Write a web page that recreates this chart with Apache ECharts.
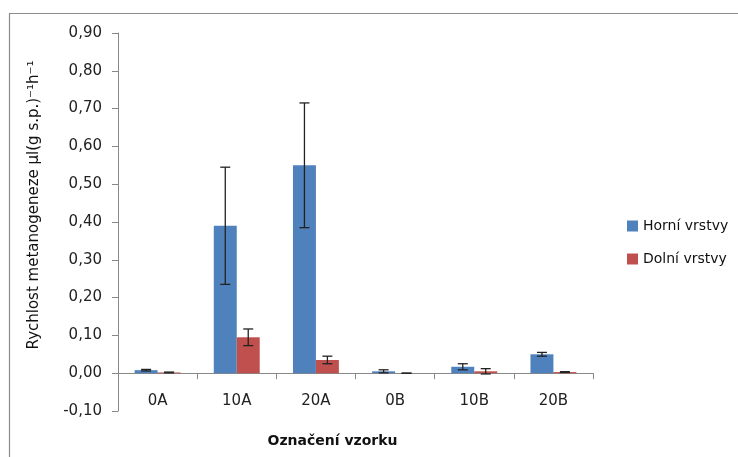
<!DOCTYPE html>
<html>
<head>
<meta charset="utf-8">
<script src="https://cdn.jsdelivr.net/npm/echarts@6/dist/echarts.min.js"></script>
<style>html,body{margin:0;padding:0;background:#fff}#c{width:738px;height:457px}</style>
</head>
<body>
<div id="c"></div>
<script>
var categories = ['0A', '10A', '20A', '0B', '10B', '20B'];
var horniValues = [0.008, 0.39, 0.55, 0.005, 0.017, 0.05];
var horniErrors = [0.002, 0.155, 0.165, 0.004, 0.008, 0.005];
var dolniValues = [0.002, 0.095, 0.035, 0.0, 0.005, 0.003];
var dolniErrors = [0.001, 0.022, 0.01, 0.0, 0.007, 0.001];
var yTicks = { min: -0.1, max: 0.9, interval: 0.1 };

var FONT = 'DejaVu Sans';
var chart = echarts.init(document.getElementById('c'), null, { renderer: 'canvas' });

function errData(vals, errs) {
  return vals.map(function (v, i) { return [i, v, errs[i]]; });
}
function errRender(side) {
  return function (params, api) {
    var i = api.value(0), v = api.value(1), e = api.value(2);
    var band = api.size([1, 0])[0];
    var bw = band * 0.58 / 2;
    var off = side * bw / 2;
    var top = api.coord([i, v + e]);
    var bot = api.coord([i, v - e]);
    var x = top[0] + off;
    var cap = 5;
    var st = { stroke: '#222', lineWidth: 1.3 };
    return {
      type: 'group',
      children: [
        { type: 'line', shape: { x1: x, y1: top[1], x2: x, y2: bot[1] }, style: st },
        { type: 'line', shape: { x1: x - cap, y1: top[1], x2: x + cap, y2: top[1] }, style: st },
        { type: 'line', shape: { x1: x - cap, y1: bot[1], x2: x + cap, y2: bot[1] }, style: st }
      ]
    };
  };
}

chart.setOption({
  animation: false,
  backgroundColor: '#fff',
  graphic: [{
    type: 'rect', left: 7, top: 11,
    shape: { width: 760, height: 480 },
    style: { fill: 'none', stroke: '#8c8c8c', lineWidth: 1.2 },
    z: -1
  }],
  grid: { left: 118, right: 145, top: 33, bottom: 46, containLabel: false, outerBoundsMode: 'none' },
  legend: {
    orient: 'vertical', left: 622, top: 214, itemWidth: 11, itemHeight: 11, itemGap: 19,
    icon: 'rect',
    textStyle: { fontFamily: FONT, fontSize: 14, color: '#111' },
    data: ['Horní vrstvy', 'Dolní vrstvy']
  },
  xAxis: {
    type: 'category', data: categories,
    axisLine: { onZero: true, lineStyle: { color: '#888', width: 1 } },
    axisTick: { show: true, length: 6, lineStyle: { color: '#888' } },
    axisLabel: { margin: -17, fontFamily: FONT, fontSize: 15, color: '#222' },
    name: 'Označení vzorku', nameLocation: 'middle', nameGap: 23,
    nameTextStyle: { fontFamily: FONT, fontSize: 14, fontWeight: 'bold', color: '#111', padding: [0, 46, 0, 0] }
  },
  yAxis: {
    type: 'value', min: yTicks.min, max: yTicks.max, interval: yTicks.interval,
    axisLine: { show: true, lineStyle: { color: '#888', width: 1 } },
    axisTick: { show: true, length: 6, lineStyle: { color: '#888' } },
    splitLine: { show: false },
    axisLabel: {
      margin: 16, fontFamily: FONT, fontSize: 15, color: '#222',
      formatter: function (v) { return v.toFixed(2).replace('.', ','); }
    },
    name: 'Rychlost metanogeneze µl(g s.p.)⁻¹h⁻¹', nameLocation: 'middle', nameGap: 76,
    nameTextStyle: { fontFamily: FONT, fontSize: 15, color: '#111', padding: [0, 0, 0, 34] }
  },
  series: [
    { name: 'Horní vrstvy', type: 'bar', data: horniValues, barGap: '0%', barCategoryGap: '42%',
      itemStyle: { color: '#4F81BD' } },
    { name: 'Dolní vrstvy', type: 'bar', data: dolniValues, barGap: '0%', barCategoryGap: '42%',
      itemStyle: { color: '#C0504D' } },
    { type: 'custom', data: errData(horniValues, horniErrors), renderItem: errRender(-1),
      encode: { x: 0, y: 1 }, z: 10, silent: true },
    { type: 'custom', data: errData(dolniValues, dolniErrors), renderItem: errRender(1),
      encode: { x: 0, y: 1 }, z: 10, silent: true }
  ]
});
</script>
</body>
</html>
